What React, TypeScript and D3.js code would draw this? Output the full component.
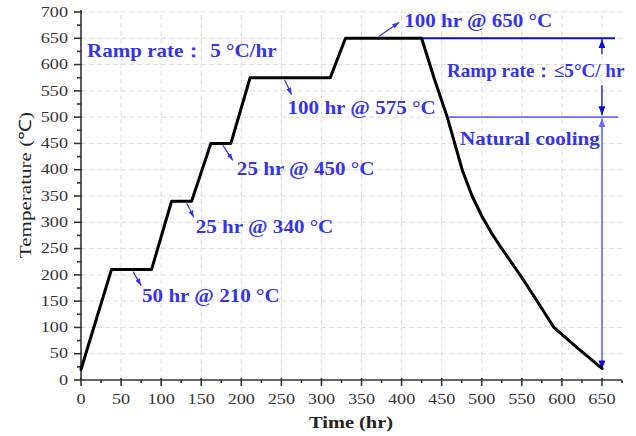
import React from "react";
import * as d3 from "d3";

// heat treatment schedule (hr, °C)
const times = [0, 38, 88, 113, 138, 162, 187, 211, 311, 330, 425, 441, 457, 476, 488, 500, 512, 525, 550, 570, 590, 620, 650];
const temps = [20, 210, 210, 340, 340, 450, 450, 575, 575, 650, 650, 572, 500, 398, 350, 312, 280, 250, 195, 148, 100, 60, 22];

const xTicks = d3.range(0, 651, 50);
const yTicks = d3.range(0, 701, 50);

// hold annotations: label, time the arrow leaves the plateau, plateau temp
const holdLabels = ["50 hr @ 210 °C", "25 hr @ 340 °C", "25 hr @ 450 °C", "100 hr @ 575 °C", "100 hr @ 650 °C"];
const holdTimes = [65, 132, 177, 254, 372];
const holdTemps = [210, 340, 450, 575, 650];

const rampText = "Ramp rate：  5 °C/hr";
const coolRampText = "Ramp rate：≤5°C/ hr";
const coolText = "Natural cooling";
const coolStart = [425, 650];
const naturalStart = [459, 500];
const endTime = 650;

const width = 636;
const height = 436;
const serif = "'Liberation Serif', 'Times New Roman', serif";
const blue = "#3434ee";
const darkBlue = "#0a0ad2";
const lightBlue = "#6b6bff";

function Txt({ x, y, sx = 1.17, size = 18, bold = true, anchor = "start", fill = blue, rotate = 0, children }: any) {
  return (
    <g transform={`translate(${x},${y}) rotate(${rotate}) scale(${sx},1)`}>
      <text fontFamily={serif} fontSize={size} fontWeight={bold ? "bold" : "normal"} textAnchor={anchor} fill={fill}>
        {children}
      </text>
    </g>
  );
}

export default function App() {
  const x = d3.scaleLinear().domain([0, 675]).range([81, 622]);
  const y = d3.scaleLinear().domain([0, 700]).range([380, 12]);

  const pts: [number, number][] = times.map((t, i) => [t, temps[i]]);
  const line = d3.line<[number, number]>().x(d => x(d[0])).y(d => y(d[1]));

  const minorX = d3.range(25, 676, 50);
  const minorY = d3.range(25, 700, 50);

  // where each hold arrow ends and its label starts (px offsets)
  const arrowOff = [[8, 14], [7, 14], [10, 15], [7, 15], [20, -14]];
  const labelOff = [[1, 16], [2, 16], [4, 15], [-4, 19], [5, 5]];

  const xEnd = x(endTime);

  return (
    <svg width={width} height={height} style={{ position: "absolute", left: 0, top: 0, background: "#fff" }}>
      <defs>
        {[["hb", blue, 7, 5], ["hd", darkBlue, 9, 7], ["hl", lightBlue, 9, 7]].map(([id, c, l, w]: any) => (
          <marker key={id} id={id} viewBox={`0 0 ${l} ${w}`} refX={l} refY={w / 2} markerWidth={l} markerHeight={w}
            markerUnits="userSpaceOnUse" orient="auto">
            <path d={`M0,0L${l},${w / 2}L0,${w}Z`} fill={c} />
          </marker>
        ))}
      </defs>

      {/* grid */}
      <g stroke="#dcdcdc" strokeWidth={1} strokeDasharray="5,3">
        {xTicks.slice(1).map(t => (
          <line key={"gx" + t} x1={x(t)} x2={x(t)} y1={y(0)} y2={y(700)} />
        ))}
        {yTicks.slice(1).map(t => (
          <line key={"gy" + t} x1={x(0)} x2={x(675)} y1={y(t)} y2={y(t)} />
        ))}
      </g>

      {/* axes */}
      <g stroke="#333" strokeWidth={1.6}>
        <line x1={x(0)} x2={x(675)} y1={y(0)} y2={y(0)} />
        <line x1={x(0)} x2={x(0)} y1={y(0)} y2={y(700) - 2} />
        {xTicks.map(t => (
          <line key={"tx" + t} x1={x(t)} x2={x(t)} y1={y(0) - 2} y2={y(0) + 6} />
        ))}
        {minorX.map(t => (
          <line key={"mx" + t} x1={x(t)} x2={x(t)} y1={y(0)} y2={y(0) + 3} />
        ))}
        {yTicks.map(t => (
          <line key={"ty" + t} x1={x(0) - 7} x2={x(0) + 1} y1={y(t)} y2={y(t)} />
        ))}
        {minorY.map(t => (
          <line key={"my" + t} x1={x(0) - 4} x2={x(0)} y1={y(t)} y2={y(t)} />
        ))}
      </g>

      {xTicks.map(t => (
        <Txt key={"lx" + t} x={x(t)} y={404} sx={1.3} size={14} bold={false} anchor="middle" fill="#333">{t}</Txt>
      ))}
      {yTicks.map(t => (
        <Txt key={"ly" + t} x={68} y={y(t) + 4.7} sx={1.3} size={14} bold={false} anchor="end" fill="#333">{t}</Txt>
      ))}

      <Txt x={351} y={428} sx={1.2} size={17} anchor="middle" fill="#222">Time  (hr)</Txt>
      <Txt x={31} y={185} sx={1.24} size={17} bold={false} anchor="middle" fill="#222" rotate={-90}>Temperature  (℃)</Txt>

      {/* cooling reference lines */}
      <line x1={x(coolStart[0])} x2={615} y1={y(coolStart[1])} y2={y(coolStart[1])} stroke={darkBlue} strokeWidth={2} />
      <line x1={x(naturalStart[0])} x2={618} y1={y(naturalStart[1])} y2={y(naturalStart[1])} stroke={lightBlue} strokeWidth={1.6} />
      <line x1={xEnd} x2={xEnd} y1={y(coolStart[1]) + 16} y2={y(coolStart[1]) + 1} stroke={darkBlue} strokeWidth={1.3} markerEnd="url(#hd)" />
      <line x1={xEnd} x2={xEnd} y1={y(coolStart[1]) + 47} y2={y(naturalStart[1]) - 2} stroke={darkBlue} strokeWidth={1.3} markerEnd="url(#hd)" />
      <line x1={xEnd} x2={xEnd} y1={y(temps[temps.length - 1])} y2={y(naturalStart[1]) + 1} stroke={lightBlue} strokeWidth={1.2} markerEnd="url(#hl)" />
      <line x1={xEnd} x2={xEnd} y1={y(naturalStart[1]) + 10} y2={y(temps[temps.length - 1]) + 1} stroke={lightBlue} strokeWidth={1.2} markerEnd="url(#hd)" />

      {/* profile */}
      <path d={line(pts) || ""} fill="none" stroke="#000" strokeWidth={3} strokeLinejoin="round" strokeLinecap="round" />

      {/* hold annotations */}
      {holdLabels.map((lab, i) => {
        const x0 = x(holdTimes[i]);
        const y0 = y(holdTemps[i]) + (arrowOff[i][1] > 0 ? 2 : -2);
        const x1 = x0 + arrowOff[i][0];
        const y1 = y0 + arrowOff[i][1];
        return (
          <g key={lab}>
            <line x1={x0} y1={y0} x2={x1} y2={y1} stroke={blue} strokeWidth={1.2} markerEnd="url(#hb)" />
            <Txt x={x1 + labelOff[i][0]} y={y1 + labelOff[i][1]}>{lab}</Txt>
          </g>
        );
      })}

      <Txt x={87} y={57}>{rampText}</Txt>
      <Txt x={447} y={77} sx={1.06}>{coolRampText}</Txt>
      <Txt x={460} y={145}>{coolText}</Txt>
    </svg>
  );
}
